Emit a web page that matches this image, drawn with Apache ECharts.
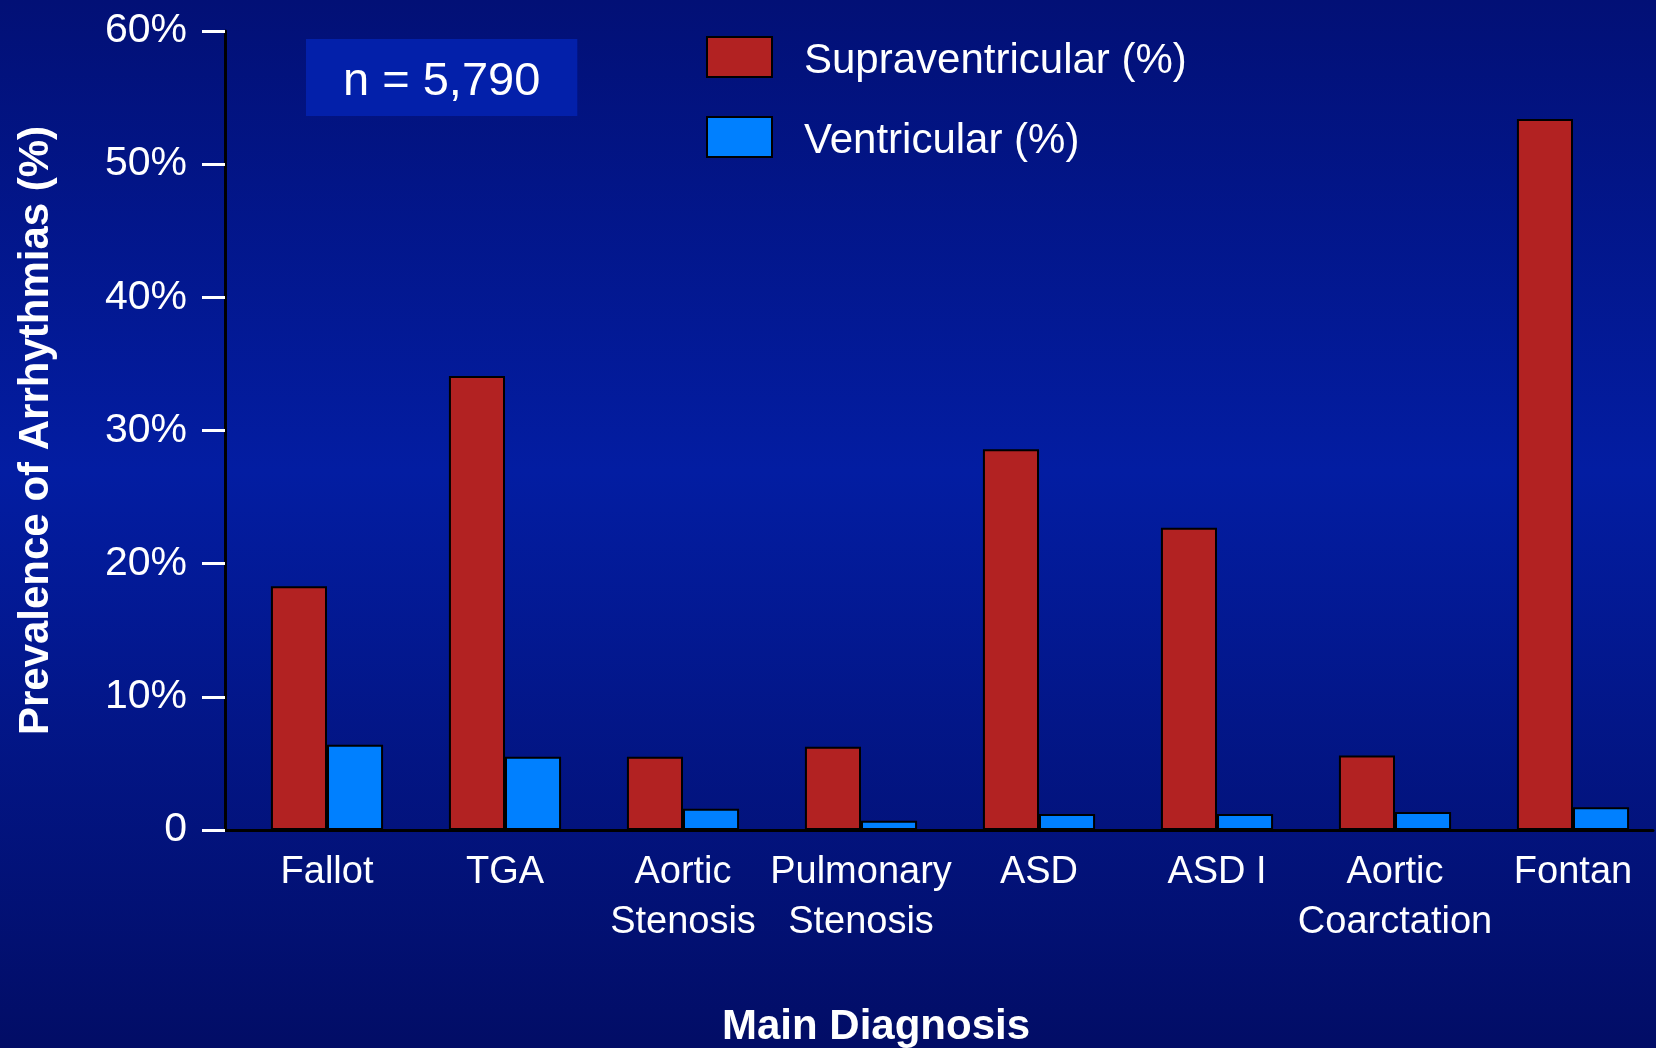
<!DOCTYPE html>
<html>
<head>
<meta charset="utf-8">
<script src="https://cdn.jsdelivr.net/npm/echarts@6/dist/echarts.min.js"></script>
<style>
html,body{margin:0;padding:0;background:#021078;}
#chart{width:1656px;height:1048px;}
</style>
</head>
<body>
<div id="chart"></div>
<script>
const categories = ['Fallot', 'TGA', 'Aortic\nStenosis', 'Pulmonary\nStenosis', 'ASD', 'ASD I', 'Aortic\nCoarctation', 'Fontan'];
const supraventricular = [18.3, 34.1, 5.5, 6.25, 28.6, 22.7, 5.6, 53.4];
const ventricular = [6.4, 5.5, 1.6, 0.7, 1.2, 1.2, 1.35, 1.7];
const yTickLabels = ['0', '10%', '20%', '30%', '40%', '50%', '60%'];
const seriesNames = ['Supraventricular (%)', 'Ventricular (%)'];
const annotation = 'n = 5,790';
const xTitle = 'Main Diagnosis';
const yTitle = 'Prevalence of Arrhythmias (%)';

const FONT = "'Liberation Sans', Arial, sans-serif";
const NARROW = "'Liberation Sans Narrow', 'Arial Narrow', 'Liberation Sans', sans-serif";

const chart = echarts.init(document.getElementById('chart'), null, {renderer: 'canvas'});
chart.setOption({
  backgroundColor: {
    type: 'linear', x: 0, y: 0, x2: 0, y2: 1,
    colorStops: [
      {offset: 0, color: '#021076'},
      {offset: 0.45, color: '#031DA2'},
      {offset: 1, color: '#020D66'}
    ]
  },
  animation: false,
  title: {
    text: annotation,
    left: 306,
    top: 39,
    padding: [20, 37, 10, 37],
    backgroundColor: '#0320AA',
    textStyle: {color: '#ffffff', fontSize: 47, fontWeight: 'normal', fontFamily: FONT}
  },
  legend: {
    orient: 'vertical',
    left: 706,
    top: 32,
    padding: 0,
    itemWidth: 65,
    itemHeight: 40,
    itemGap: 30,
    icon: 'rect',
    formatter: name => '{t|' + name + '}',
    textStyle: {
      color: '#ffffff', fontSize: 42, fontFamily: FONT,
      rich: {t: {color: '#ffffff', fontSize: 42, fontFamily: FONT, lineHeight: 42, padding: [8, 0, 0, 27]}}
    },
    data: seriesNames
  },
  graphic: [{
    type: 'text',
    x: 876,
    y: 1027,
    style: {text: xTitle, fill: '#ffffff', font: "bold 42px " + FONT, textAlign: 'center', textVerticalAlign: 'middle'}
  }],
  grid: [
    {left: 238, width: 1424, top: 31, bottom: 218, containLabel: false, outerBoundsMode: 'none'},
    {left: 225, right: 3, top: 31, bottom: 218, containLabel: false, outerBoundsMode: 'none'}
  ],
  xAxis: [
    {
      type: 'category',
      gridIndex: 0,
      data: categories,
      axisLine: {show: false},
      axisTick: {show: false},
      axisLabel: {color: '#ffffff', fontSize: 38, fontFamily: NARROW, lineHeight: 50, margin: 18, interval: 0}
    },
    {
      type: 'value',
      gridIndex: 1,
      min: 0, max: 1,
      axisLine: {show: true, onZero: false, lineStyle: {color: '#000000', width: 3}},
      axisTick: {show: false},
      axisLabel: {show: false},
      splitLine: {show: false}
    }
  ],
  yAxis: [
    {
      type: 'value',
      gridIndex: 0,
      min: 0, max: 60, interval: 10,
      offset: 13,
      name: yTitle,
      nameLocation: 'middle',
      nameGap: 168,
      nameTextStyle: {color: '#ffffff', fontSize: 42, fontWeight: 'bold', fontFamily: FONT},
      axisLine: {show: true, lineStyle: {color: '#000000', width: 3}},
      axisTick: {show: true, length: 23, lineStyle: {color: '#ffffff', width: 3}},
      axisLabel: {
        color: '#ffffff', fontSize: 41, fontFamily: FONT, margin: 38,
        formatter: v => yTickLabels[Math.round(v / 10)]
      },
      splitLine: {show: false}
    },
    {
      type: 'value', gridIndex: 1, min: 0, max: 1, show: false
    }
  ],
  series: [
    {
      name: seriesNames[0],
      type: 'bar',
      xAxisIndex: 0, yAxisIndex: 0,
      data: supraventricular,
      barGap: '0%',
      barCategoryGap: '37%',
      itemStyle: {color: '#B22222', borderColor: '#000000', borderWidth: 2}
    },
    {
      name: seriesNames[1],
      type: 'bar',
      xAxisIndex: 0, yAxisIndex: 0,
      data: ventricular,
      barGap: '0%',
      barCategoryGap: '37%',
      itemStyle: {color: '#0080FF', borderColor: '#000000', borderWidth: 2}
    }
  ]
});
</script>
</body>
</html>
